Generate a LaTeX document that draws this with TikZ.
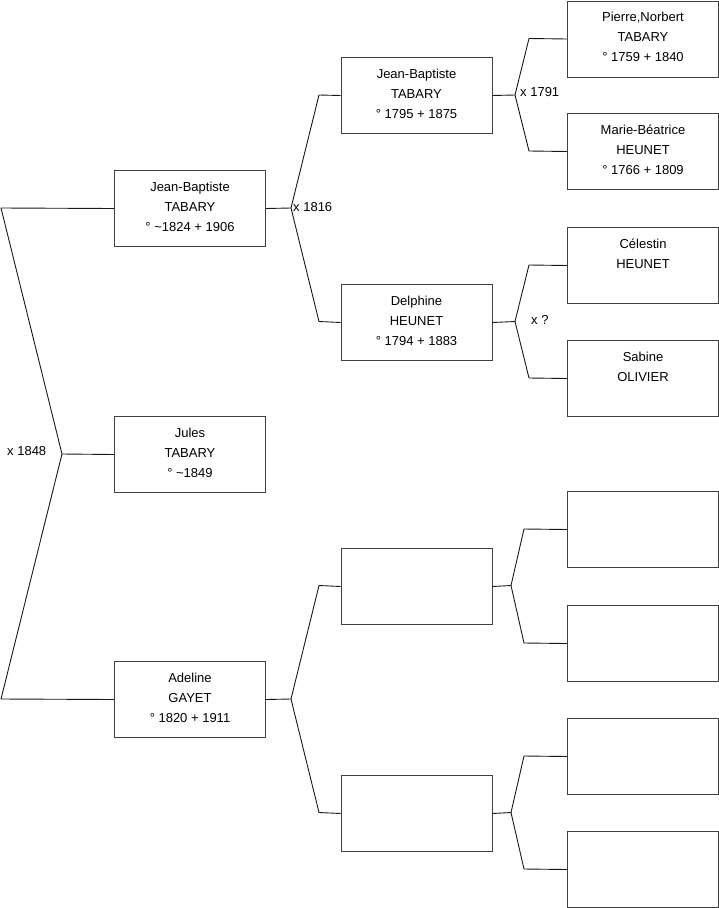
\documentclass[tikz,border=0pt]{standalone}
\usepackage{fontspec}
\setmainfont{Liberation Sans}
\begin{document}
\begin{tikzpicture}[x=1pt,y=-1pt,
  pbox/.style={draw=black!75,line width=1pt,minimum width=151pt,minimum height=76pt,inner sep=0pt,anchor=north west},
  ptext/.style={anchor=north,inner sep=0pt,align=center,font=\fontsize{13}{20}\selectfont,yshift=-7pt},
  conn/.style={draw=black!90,line width=0.9pt,line join=round},
  mlabel/.style={anchor=west,inner sep=0pt,font=\fontsize{13}{14}\selectfont}]
\useasboundingbox (0,0) rectangle (719,908);
% left column
\node[pbox] (jb) at (114,170) {};
\node[pbox] (ju) at (114,416) {};
\node[pbox] (ad) at (114,661) {};
% middle column
\node[pbox] (jb2) at (340.5,57) {};
\node[pbox] (de) at (340.5,284) {};
\node[pbox] (m3) at (340.5,548) {};
\node[pbox] (m4) at (340.5,775) {};
% right column
\node[pbox] (pn) at (567,0.5) {};
\node[pbox] (mb) at (567,113) {};
\node[pbox] (ce) at (567,227) {};
\node[pbox] (sa) at (567,340) {};
\node[pbox] (r5) at (567,491) {};
\node[pbox] (r6) at (567,605) {};
\node[pbox] (r7) at (567,718) {};
\node[pbox] (r8) at (567,831) {};
% texts
\node[ptext] (tjb) at (jb.north) {\strut Jean-Baptiste\\TABARY\\° \textasciitilde 1824 + 1906};
\node[ptext] (tju) at (ju.north) {\strut Jules\\TABARY\\° \textasciitilde 1849};
\node[ptext] (tad) at (ad.north) {\strut Adeline\\GAYET\\° 1820 + 1911};
\node[ptext] (tjb2) at (jb2.north) {\strut Jean-Baptiste\\TABARY\\° 1795 + 1875};
\node[ptext] (tde) at (de.north) {\strut Delphine\\HEUNET\\° 1794 + 1883};
\node[ptext] (tpn) at (pn.north) {\strut Pierre,Norbert\\TABARY\\° 1759 + 1840};
\node[ptext] (tmb) at (mb.north) {\strut Marie-Béatrice\\HEUNET\\° 1766 + 1809};
\node[ptext] (tce) at (ce.north) {\strut Célestin\\HEUNET};
\node[ptext] (tsa) at (sa.north) {\strut Sabine\\OLIVIER};
% junction coordinates
\coordinate (j0) at (62,454);
\coordinate (c0a) at (1,208);
\coordinate (c0b) at (1,699);
\coordinate (j1) at (291,208);
\coordinate (c1a) at (319,95);
\coordinate (c1b) at (319,321.5);
\coordinate (j2) at (515,95);
\coordinate (c2a) at (529,38.5);
\coordinate (c2b) at (529,151);
\coordinate (j3) at (515,321.5);
\coordinate (c3a) at (529,265);
\coordinate (c3b) at (529,378);
\coordinate (j4) at (291,699);
\coordinate (c4a) at (319,585.5);
\coordinate (c4b) at (319,812.5);
\coordinate (j5) at (511,585.5);
\coordinate (c5a) at (524,529);
\coordinate (c5b) at (524,643);
\coordinate (j6) at (511,812.5);
\coordinate (c6a) at (524,756);
\coordinate (c6b) at (524,869);
% connectors
\draw[conn] (ju.west) -- (j0);
\draw[conn] (jb.west) -- (c0a) -- (j0) -- (c0b) -- (ad.west);
\draw[conn] (jb.east) -- (j1);
\draw[conn] (jb2.west) -- (c1a) -- (j1) -- (c1b) -- (de.west);
\draw[conn] (jb2.east) -- (j2);
\draw[conn] (pn.west) -- (c2a) -- (j2) -- (c2b) -- (mb.west);
\draw[conn] (de.east) -- (j3);
\draw[conn] (ce.west) -- (c3a) -- (j3) -- (c3b) -- (sa.west);
\draw[conn] (ad.east) -- (j4);
\draw[conn] (m3.west) -- (c4a) -- (j4) -- (c4b) -- (m4.west);
\draw[conn] (m3.east) -- (j5);
\draw[conn] (r5.west) -- (c5a) -- (j5) -- (c5b) -- (r6.west);
\draw[conn] (m4.east) -- (j6);
\draw[conn] (r7.west) -- (c6a) -- (j6) -- (c6b) -- (r8.west);
% marriage labels
\node[mlabel] (l0) at (7,451) {x 1848};
\node[mlabel] (l1) at (293,207) {x 1816};
\node[mlabel] (l2) at (520,92) {x 1791};
\node[mlabel] (l3) at (531,320) {x ?};
\end{tikzpicture}
\end{document}
